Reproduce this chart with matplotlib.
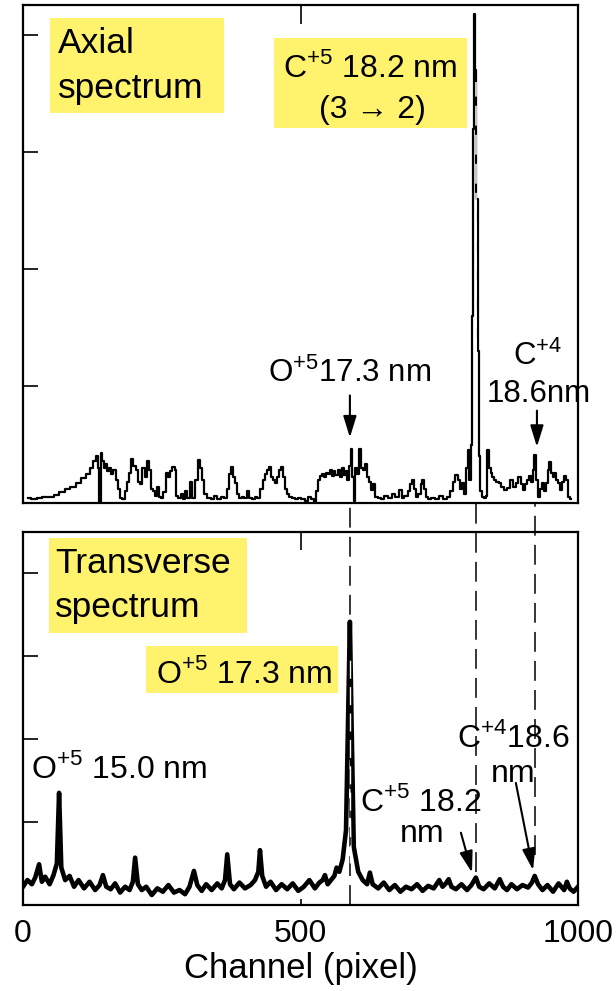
import matplotlib
matplotlib.use("Agg")
import matplotlib.pyplot as plt
from matplotlib.patches import Rectangle

# Fonts
plt.rcParams['font.family'] = ['Liberation Sans', 'DejaVu Sans']
plt.rcParams['mathtext.fontset'] = 'custom'
plt.rcParams['mathtext.rm'] = 'Liberation Sans'

# Axial spectrum (channel, intensity in y-tick units)
axial_ch = [9, 20, 30, 40, 50, 60, 70, 80, 90, 100, 110, 118, 124, 129, 133, 136, 137, 140, 141,
            144, 147, 150, 153, 157, 161, 165, 169, 173, 177, 181, 185, 189, 193, 197, 201, 205,
            209, 213, 217, 221, 225, 229, 232, 236, 240, 244, 247, 251, 255, 259, 263, 267, 271,
            275, 278, 282, 286, 290, 294, 298, 303, 307, 313, 317, 321, 325, 329, 335, 341, 347,
            353, 359, 364, 370, 374, 377, 380, 383, 387, 391, 397, 401, 405, 409, 415, 420, 424,
            430, 434, 437, 441, 444, 448, 452, 455, 459, 463, 466, 470, 474, 478, 482, 487, 492,
            498, 505, 511, 516, 521, 526, 530, 533, 537, 540, 544, 548, 551, 555, 558, 561, 565,
            569, 572, 576, 580, 583, 586, 589, 592, 594, 597, 601, 604, 608, 611, 615, 618, 622,
            626, 629, 633, 637, 642, 648, 654, 660, 668, 674, 680, 684, 690, 696, 700, 703, 706,
            710, 715, 718, 721, 724, 728, 733, 739, 746, 753, 760, 767, 772, 777, 781, 785, 789,
            793, 796, 800, 803, 806, 808, 810, 812, 814, 816, 818, 820, 822, 825, 828, 832, 835,
            838, 841, 844, 847, 850, 855, 859, 864, 870, 875, 881, 885, 890, 895, 899, 902, 906,
            910, 913, 917, 920, 923, 926, 930, 934, 937, 941, 944, 947, 950, 953, 956, 959, 963,
            966, 970, 973, 977, 980, 984, 987]
axial_val = [0.04, 0.03, 0.04, 0.05, 0.05, 0.07, 0.09, 0.12, 0.14, 0.17, 0.21, 0.25, 0.30, 0.36,
             0.40, 0.30, 0.00, 0.00, 0.43, 0.36, 0.30, 0.33, 0.27, 0.30, 0.25, 0.28, 0.20, 0.12,
             0.04, 0.03, 0.10, 0.18, 0.26, 0.38, 0.32, 0.28, 0.18, 0.16, 0.30, 0.22, 0.36, 0.28,
             0.12, 0.10, 0.06, 0.14, 0.05, 0.04, 0.09, 0.26, 0.22, 0.27, 0.31, 0.28, 0.06, 0.04,
             0.08, 0.03, 0.10, 0.04, 0.18, 0.04, 0.20, 0.37, 0.30, 0.20, 0.08, 0.04, 0.03, 0.06,
             0.03, 0.05, 0.04, 0.12, 0.25, 0.31, 0.22, 0.17, 0.08, 0.04, 0.05, 0.04, 0.10, 0.04,
             0.03, 0.05, 0.04, 0.12, 0.20, 0.25, 0.28, 0.31, 0.22, 0.20, 0.17, 0.22, 0.28, 0.31,
             0.22, 0.12, 0.08, 0.05, 0.04, 0.03, 0.04, 0.03, 0.02, 0.05, 0.03, 0.00, 0.10, 0.20,
             0.23, 0.25, 0.22, 0.26, 0.25, 0.28, 0.23, 0.27, 0.24, 0.28, 0.22, 0.30, 0.24, 0.27,
             0.20, 0.32, 0.46, 0.22, 0.02, 0.30, 0.25, 0.46, 0.30, 0.28, 0.33, 0.22, 0.18, 0.11,
             0.16, 0.05, 0.04, 0.03, 0.06, 0.04, 0.08, 0.05, 0.11, 0.04, 0.06, 0.10, 0.16, 0.20,
             0.12, 0.05, 0.08, 0.16, 0.20, 0.12, 0.05, 0.03, 0.04, 0.03, 0.06, 0.03, 0.05, 0.10,
             0.18, 0.24, 0.20, 0.12, 0.17, 0.08, 0.30, 0.45, 0.20, 0.50, 1.60, 3.20, 4.18, 3.70,
             2.60, 1.30, 0.40, 0.10, 0.05, 0.04, 0.06, 0.45, 0.30, 0.26, 0.22, 0.20, 0.18, 0.17,
             0.14, 0.11, 0.13, 0.20, 0.14, 0.17, 0.22, 0.16, 0.11, 0.16, 0.20, 0.23, 0.18, 0.28,
             0.41, 0.20, 0.05, 0.12, 0.17, 0.10, 0.17, 0.28, 0.35, 0.26, 0.22, 0.26, 0.20, 0.17,
             0.11, 0.18, 0.23, 0.20, 0.05, 0.03]

# Transverse spectrum (channel, intensity in y-tick units)
trans_ch = [0, 8, 16, 22, 29, 34, 40, 48, 55, 61, 65, 69, 76, 84, 92, 100, 110, 120, 130, 138,
            144, 150, 158, 166, 175, 184, 192, 198, 202, 207, 214, 222, 232, 242, 252, 262, 272,
            282, 292, 300, 308, 314, 322, 330, 340, 350, 358, 364, 368, 373, 380, 390, 400, 410,
            418, 424, 427, 431, 438, 446, 456, 466, 476, 486, 496, 506, 516, 526, 534, 540, 544,
            549, 555, 561, 565, 570, 576, 582, 586, 589, 592, 596, 604, 612, 620, 625, 630, 640,
            650, 660, 670, 680, 690, 700, 710, 720, 730, 740, 750, 756, 762, 767, 772, 780, 790,
            800, 808, 816, 822, 830, 840, 850, 859, 865, 872, 880, 890, 900, 910, 917, 922, 928,
            936, 945, 955, 965, 975, 980, 985, 992, 1000]
trans_val = [0.22, 0.30, 0.25, 0.33, 0.49, 0.28, 0.34, 0.25, 0.36, 0.50, 1.35, 0.45, 0.30, 0.35,
             0.22, 0.30, 0.20, 0.28, 0.18, 0.24, 0.36, 0.22, 0.19, 0.26, 0.15, 0.22, 0.18, 0.28,
             0.57, 0.25, 0.18, 0.22, 0.12, 0.20, 0.16, 0.24, 0.15, 0.18, 0.13, 0.22, 0.41, 0.24,
             0.17, 0.25, 0.18, 0.26, 0.20, 0.30, 0.61, 0.25, 0.19, 0.27, 0.20, 0.24, 0.30, 0.40,
             0.66, 0.35, 0.22, 0.28, 0.18, 0.25, 0.19, 0.26, 0.17, 0.22, 0.30, 0.20, 0.27, 0.30,
             0.36, 0.25, 0.30, 0.35, 0.45, 0.40, 0.55, 0.90, 2.30, 3.41, 2.20, 0.70, 0.40, 0.30,
             0.25, 0.39, 0.25, 0.20, 0.27, 0.18, 0.24, 0.16, 0.22, 0.19, 0.25, 0.17, 0.23, 0.20,
             0.30, 0.22, 0.26, 0.31, 0.22, 0.19, 0.25, 0.18, 0.24, 0.33, 0.22, 0.19, 0.26, 0.20,
             0.31, 0.22, 0.18, 0.25, 0.19, 0.24, 0.21, 0.27, 0.35, 0.25, 0.18, 0.24, 0.16, 0.26,
             0.18, 0.28, 0.20, 0.16, 0.22]

# Line positions (channel)
o5_173_ch = 589
c5_182_ch = 816
c4_186_ch = 922

YELLOW = '#fff36e'
W, H = 616, 991


def fpx(x, y):
    # figure pixel (from top-left) -> figure fraction
    return x / W, 1 - y / H


def ybox(x0, y0, x1, y1):
    fig.patches.append(Rectangle(fpx(x0, y1), (x1 - x0) / W, (y1 - y0) / H,
                                 transform=fig.transFigure, facecolor=YELLOW,
                                 edgecolor='none', zorder=0))


def ftext(x, y, s, size, ha='left'):
    fig.text(*fpx(x, y), s, fontsize=size, ha=ha, va='baseline', zorder=5)


fig = plt.figure(figsize=(6.16, 9.91), dpi=100)
ax1 = fig.add_axes([23 / W, 1 - 503 / H, 555 / W, 498 / H])
ax2 = fig.add_axes([23 / W, 1 - 905 / H, 555 / W, 373 / H])

for ax in (ax1, ax2):
    ax.set_facecolor('none')
    for sp in ax.spines.values():
        sp.set_linewidth(1.6)
    ax.set_xlim(0, 1000)
    ax.set_yticks([1, 2, 3, 4])
    ax.set_yticklabels([])
    ax.tick_params(axis='y', direction='in', length=11, width=1.2)

ax1.set_ylim(0, 4.26)
ax2.set_ylim(0, 4.49)

# 1. Spectra
ax1.plot(axial_ch, axial_val, color='black', lw=1.6, drawstyle='steps-mid')
ax2.plot(trans_ch, trans_val, color='black', lw=3.3)

# 2. X ticks
ax1.set_xticks([500])
ax1.set_xticklabels([])
ax1.tick_params(axis='x', direction='in', top=True, bottom=False, length=14, width=1.2)
ax2.set_xticks([0, 500, 1000])
ax2.tick_params(axis='x', direction='in', length=4, width=1.2, labelsize=23, pad=10)
ax2.set_xlabel("Channel (pixel)", fontsize=25, labelpad=2)
top2 = ax2.secondary_xaxis('top')
top2.set_xticks([500])
top2.set_xticklabels([])
top2.tick_params(direction='in', length=13, width=1.2)
top2.spines['top'].set_visible(False)

# 3. Dashed guide lines
dash = (0, (13, 6))
gap_top = 4.49 + (532 - 503) / 83
ax2.plot([o5_173_ch, o5_173_ch], [0, gap_top], color='black', lw=1.1, ls=dash, clip_on=False)
ax2.plot([c5_182_ch, c5_182_ch], [0.40, gap_top], color='black', lw=1.1, ls=dash, clip_on=False)
ax2.plot([c4_186_ch, c4_186_ch], [0.60, gap_top], color='black', lw=1.1, ls=dash, clip_on=False)
ax1.plot([c5_182_ch, c5_182_ch], [0, 3.6], color='white', lw=1.1, ls=dash)
ax2.plot([o5_173_ch, o5_173_ch], [0.5, 3.0], color='white', lw=1.0, ls=dash)

# 4. Labels and boxes
ybox(50, 18, 224, 113)
ftext(58, 53, "Axial", 25.5)
ftext(58, 98, "spectrum", 25.5)

ybox(274, 38, 467, 128)
ftext(370, 77, r"C$^{\mathregular{+5}}$ 18.2 nm", 23, ha='center')
ftext(372, 118, "(3 \u2192 2)", 23, ha='center')

ftext(350, 382, r"O$^{\mathregular{+5}}$17.3 nm", 22.5, ha='center')
ftext(538, 365, r"C$^{\mathregular{+4}}$", 22.5, ha='center')
ftext(539, 402, "18.6nm", 22.5, ha='center')

ybox(49, 538, 247, 633)
ftext(55, 573, "Transverse", 25.5)
ftext(55, 617, "spectrum", 25.5)

ybox(146, 646, 338, 693)
ftext(244, 683, r"O$^{\mathregular{+5}}$ 17.3 nm", 23, ha='center')

ftext(31, 778, r"O$^{\mathregular{+5}}$ 15.0 nm", 23)
ftext(421, 811, r"C$^{\mathregular{+5}}$ 18.2", 23, ha='center')
ftext(422, 842, "nm", 23, ha='center')
ftext(513, 747, r"C$^{\mathregular{+4}}$18.6", 23, ha='center')
ftext(513, 782, "nm", 23, ha='center')

# 5. Arrows
arw = dict(arrowstyle='-|>,head_length=0.65,head_width=0.2', color='black', lw=1.5,
           shrinkA=0, shrinkB=0, mutation_scale=20)
ax1.annotate("", xy=(o5_173_ch, 0.56), xytext=(o5_173_ch, 0.92), arrowprops=arw)
ax1.annotate("", xy=(926, 0.48), xytext=(926, 0.79), arrowprops=arw)
ax2.annotate("", xy=(809, 0.39), xytext=(789, 0.87), arrowprops=arw)
ax2.annotate("", xy=(919, 0.42), xytext=(888, 1.47), arrowprops=arw)

plt.savefig("out.png", dpi=100)
plt.close()
